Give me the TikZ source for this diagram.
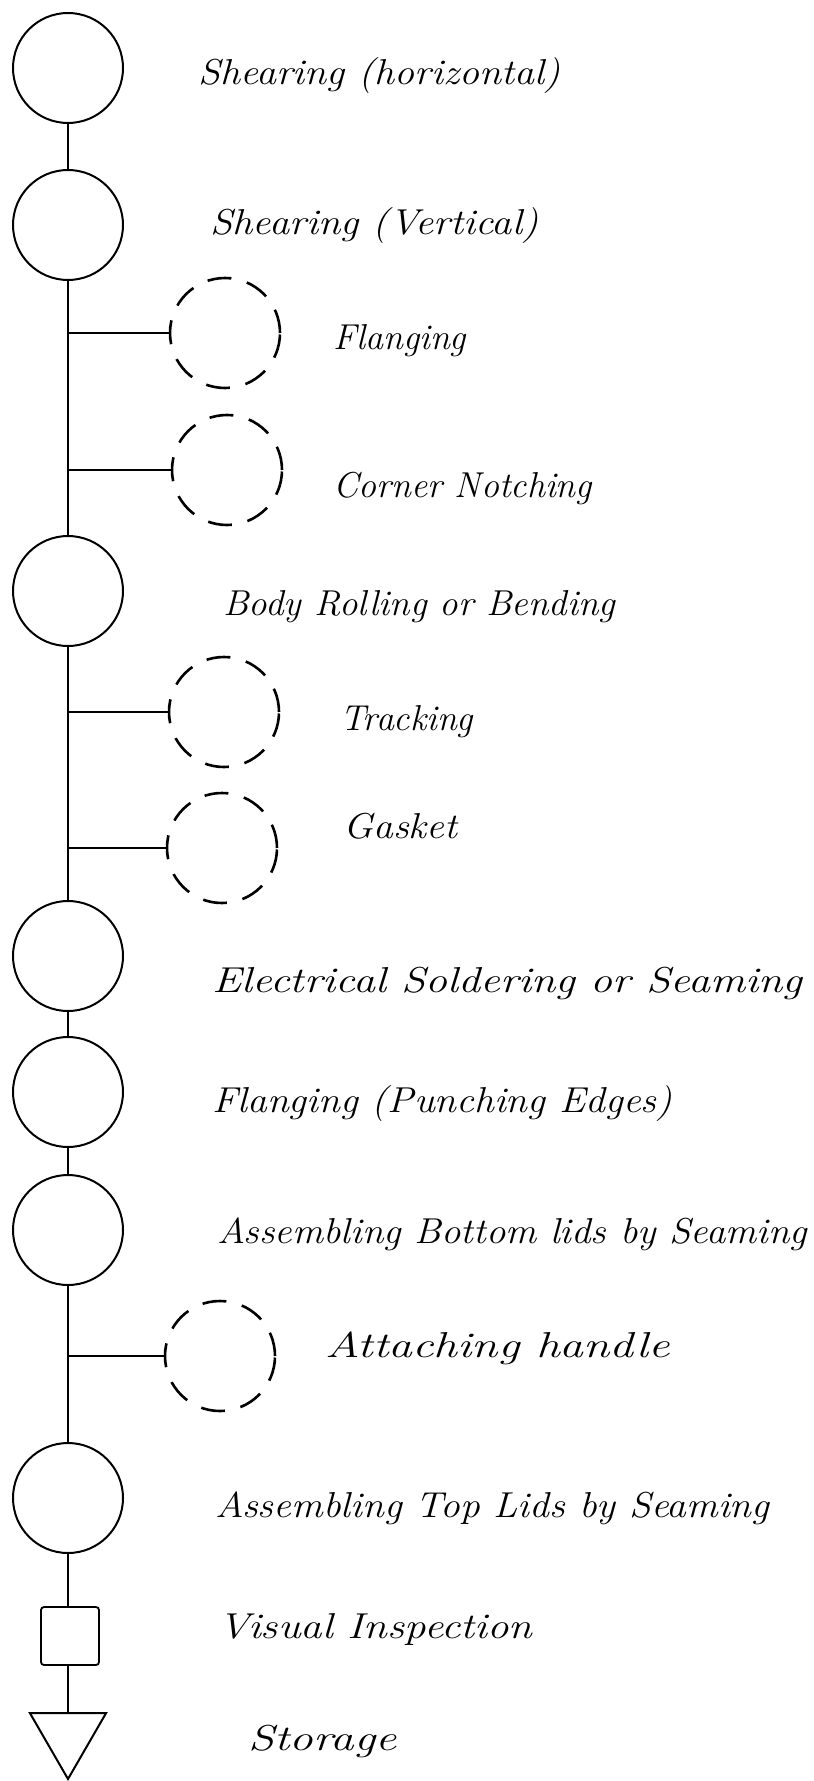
\documentclass[tikz,border=0pt]{standalone}
\usepackage{graphicx}
\usetikzlibrary{shapes.geometric}
% stretch a label horizontally to a given width, keeping its height
\newcommand{\wfit}[2]{\resizebox{#1}{\height}{#2}}
\tikzset{
  opnode/.style={circle, draw, line width=1pt, inner sep=0pt, minimum size=55pt},
  auxop/.style={circle, draw, line width=1.3pt, dash pattern=on 12pt off 8pt, inner sep=0pt, minimum size=55pt},
  inspect/.style={rectangle, draw, line width=0.9pt, rounded corners=1.5pt, inner sep=0pt, minimum size=29pt},
  store/.style={regular polygon, regular polygon sides=3, shape border rotate=180, draw, line width=1pt, inner sep=0pt, minimum size=44pt},
  flow/.style={line width=0.8pt},
  lab/.style={anchor=base west, inner sep=0pt, font=\fontsize{18}{21}\selectfont\itshape},
}
\begin{document}
\begin{tikzpicture}[x=0.5pt, y=-0.5pt]
\useasboundingbox (0,0) rectangle (813,1781);

% main operations
\node[opnode] (c1) at (68,68) {};
\node[opnode] (c2) at (68,225) {};
\node[opnode] (c3) at (68,591) {};
\node[opnode] (c4) at (68,956) {};
\node[opnode] (c5) at (68,1092) {};
\node[opnode] (c6) at (68,1230) {};
\node[opnode] (c7) at (68,1498) {};
\node[inspect] (sq) at (70,1636) {};
\node[store] (st) at (68,1735) {};

% side operations
\node[auxop] (d1) at (225,333) {};
\node[auxop] (d2) at (227,470) {};
\node[auxop] (d3) at (224,712) {};
\node[auxop] (d4) at (222,848) {};
\node[auxop] (d5) at (220,1356) {};

% main flow line
\draw[flow] (c1) -- (c2);
\draw[flow] (c2) -- (c3);
\draw[flow] (c3) -- (c4);
\draw[flow] (c4) -- (c5);
\draw[flow] (c5) -- (c6);
\draw[flow] (c6) -- (c7);
\draw[flow] (c7.south) -- (c7.south |- sq.north);
\draw[flow] (sq.south -| st) -- (st);

% branches to side operations
\draw[flow] (d1.west) -- (d1.west -| c2.south);
\draw[flow] (d2.west) -- (d2.west -| c2.south);
\draw[flow] (d3.west) -- (d3.west -| c3.south);
\draw[flow] (d4.west) -- (d4.west -| c3.south);
\draw[flow] (d5.west) -- (d5.west -| c6.south);

% labels
\node[lab] (l1) at (198,85) {\wfit{181pt}{Shearing (horizontal)}};
\node[lab] (l2) at (210,235) {\wfit{164pt}{Shearing (Vertical)}};
\node[lab] (l3) at (333,350) {Flanging};
\node[lab] (l4) at (333,497) {Corner Notching};
\node[lab] (l5) at (223,615) {\wfit{196pt}{Body Rolling or Bending}};
\node[lab] (l6) at (340,730) {Tracking};
\node[lab] (l7) at (343,838) {\wfit{57pt}{Gasket}};
\node[lab] (l8) at (212,992) {\wfit{295pt}{Electrical Soldering or Seaming}};
\node[lab] (l9) at (212,1112) {\wfit{230pt}{Flanging (Punching Edges)}};
\node[lab] (l10) at (217,1243) {\wfit{295pt}{Assembling Bottom lids by Seaming}};
\node[lab] (l11) at (325,1357) {\wfit{172pt}{Attaching handle}};
\node[lab] (l12) at (215,1517) {\wfit{277pt}{Assembling Top Lids by Seaming}};
\node[lab] (l13) at (218,1638) {\wfit{157pt}{Visual Inspection}};
\node[lab] (l14) at (248,1750) {\wfit{74pt}{Storage}};
\end{tikzpicture}
\end{document}
